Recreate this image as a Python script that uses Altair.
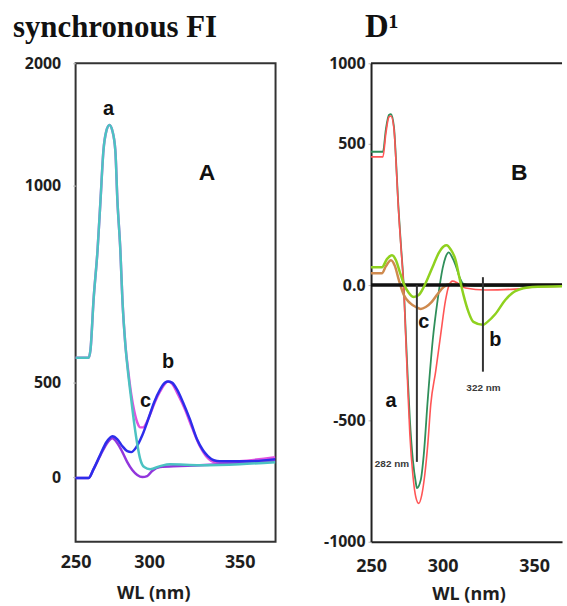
import altair as alt
import pandas as pd

# ---------------- Panel A: synchronous fluorescence intensity ----------------
a_teal_wl = [250, 258.8, 260.1, 262.2, 264.9, 266.9, 268.9, 270.9, 273.0, 275.0, 277.0, 278.4, 280.4, 281.8,
             283.8, 285.8, 287.8, 289.9, 291.9, 293.9, 296.6, 300.5, 306.0, 311.5, 328.0, 350.0, 369.8]
a_teal_fi = [563, 563, 583, 710, 836, 962, 1285, 1447, 1496, 1447, 1285, 962, 836, 710,
             596, 520, 411, 279, 174, 95, 53, 42, 58, 68, 63, 68, 79]

a_magenta_wl = [250, 258.8, 260.1, 262.2, 264.9, 266.9, 268.9, 270.9, 273.0, 275.0, 277.0, 278.4, 280.4, 281.8,
                283.8, 285.8, 287.8, 289.9, 291.9, 293.9, 295.9, 298.0, 300.5, 303.3, 306.0, 308.8, 310.4,
                312.6, 315.9, 319.8, 323.6, 328.0, 331.9, 336.3, 350.0, 369.8]
a_magenta_fi = [563, 563, 583, 710, 836, 962, 1285, 1447, 1496, 1447, 1285, 962, 836, 710,
                596, 528, 437, 347, 289, 263, 263, 284, 332, 400, 453, 495, 503,
                495, 437, 358, 263, 163, 105, 79, 84, 105]

a_blue_wl = [250, 258.8, 262.2, 266.9, 270.9, 275.0, 278.4, 281.8, 285.1, 287.8, 291.2, 295.3, 299.3, 302.7,
             306.0, 308.8, 310.4, 312.6, 315.4, 318.7, 322.5, 326.4, 329.7, 332.4, 335.7, 339.0, 355.5, 369.8]
a_blue_fi = [-5, -5, 42, 121, 184, 216, 200, 163, 137, 132, 158, 221, 305, 395,
             463, 500, 503, 500, 463, 395, 305, 200, 142, 111, 89, 84, 84, 95]

a_purple_wl = [250, 258.8, 262.2, 266.9, 270.9, 275.0, 278.4, 281.8, 285.1, 288.5, 291.9, 295.3, 298.6,
               301.6, 306.0, 317.0, 339.0, 369.8]
a_purple_fi = [-5, -5, 42, 116, 174, 205, 179, 132, 79, 37, 11, 0, 5, 32, 53, 58, 68, 84]

a_labels = ["a", "b", "c"]
a_label_wl = [272.3, 310.4, 297.5]
a_label_fi = [1626, 551, 400]

# axis breakpoints of panel A (tick value -> distance from the top of the plot)
a_y_ticks = [-342, 0, 500, 1000, 2000]
a_y_pos = [481, 416, 321, 123, 0]
a_x_ticks = [250, 300, 350, 370]
a_x_pos = [0, 74, 165, 201]

# ---------------- Panel B: first-derivative spectra ----------------
b_red_wl = [250, 258.3, 260.4, 262.5, 263.9, 266.0, 267.4, 268.8, 270.8, 272.9, 274.3, 275.7, 277.1, 279.2,
            281.3, 283.3, 285.4, 287.5, 289.6, 291.7, 295.1, 298.6, 301.6, 303.3, 305.4, 308.2, 312.5,
            323.4, 339.7, 350.5, 365]
b_red_d1 = [454, 454, 568, 667, 673, 593, 440, 299, 141, -18, -202, -386, -558, -725,
            -817, -842, -808, -725, -600, -441, -320, -184, -55, -4, 14, 7, -11,
            -18, -15, -7, -4]

b_green_wl = [250, 258.3, 260.4, 262.5, 263.9, 266.0, 267.4, 268.8, 270.8, 272.9, 274.3, 275.7, 277.1, 279.2,
              281.3, 282.0, 284.7, 286.8, 289.6, 293.1, 296.5, 300.0, 301.6, 303.3, 304.9, 307.1, 309.2,
              311.4, 318.0, 339.7, 365]
b_green_d1 = [472, 472, 593, 679, 685, 605, 447, 306, 148, -11, -184, -349, -496, -663,
              -758, -779, -746, -642, -423, -202, -55, 60, 99, 116, 102, 70, 28,
              4, -4, -4, 0]

b_orange_wl = [250, 257.6, 260.4, 263.9, 266.7, 269.4, 272.9, 277.1, 281.3, 284.7, 288.2, 292.4, 296.5,
               300.5, 304.3, 309.8, 365]
b_orange_d1 = [42, 42, 67, 88, 67, 18, -37, -66, -81, -88, -81, -62, -33, -7, 4, 0, 0]

b_lime_wl = [250, 257.6, 261.1, 264.6, 267.4, 270.1, 272.9, 276.4, 279.9, 283.3, 286.8, 290.3, 293.8, 297.2,
             300.5, 302.2, 304.3, 307.1, 309.2, 311.4, 314.1, 316.8, 322.0, 324.5, 328.8, 334.2, 339.7,
             349.0, 365]
b_lime_d1 = [63, 63, 92, 106, 88, 46, 4, -29, -44, -37, -7, 32, 74, 113,
             137, 141, 127, 88, 25, -37, -99, -136, -147, -136, -107, -55, -22,
             -7, -4]

# peak markers: wavelength, top and bottom of the marker line
b_peak_nm = [282, 322]
b_peak_top = [0, 28]
b_peak_bottom = [-671, -320]
b_peak_text = ["282 nm", "322 nm"]
b_peak_text_wl = [264.6, 322.3]
b_peak_text_d1 = [-679, -379]

b_labels = ["a", "b", "c"]
b_label_wl = [263.9, 328.8, 286.8]
b_label_d1 = [-430, -202, -136]

# axis breakpoints of panel B
b_y_ticks = [-1000, -500, 0, 500, 1000]
b_y_pos = [481, 359, 223, 81, 0]
b_x_ticks = [250, 300, 350, 365]
b_x_pos = [0, 72, 164, 192]

SANS = "Open Sans"
SERIF = "Liberation Serif"
INK = "#1e1e1e"

# ---------------- shared encodings ----------------
xa_scale = alt.Scale(domain=a_x_ticks, range=a_x_pos, nice=False, zero=False)
ya_scale = alt.Scale(domain=a_y_ticks, range=a_y_pos, nice=False, zero=False)
xb_scale = alt.Scale(domain=b_x_ticks, range=b_x_pos, nice=False, zero=False)
yb_scale = alt.Scale(domain=b_y_ticks, range=b_y_pos, nice=False, zero=False)

xa_axis = alt.Axis(values=[250, 300, 350], title="WL (nm)", ticks=False, domain=False, grid=False,
                   labelFlush=False,
                   labelFont=SANS, labelFontWeight="bold", labelFontSize=18, labelColor=INK,
                   labelPadding=12, titleFont=SANS, titleFontWeight="bold", titleFontSize=18,
                   titleColor=INK, titleX=78, titleY=57, titleBaseline="alphabetic")
ya_axis = alt.Axis(values=[0, 500, 1000, 2000], title=None, domain=False, grid=False,
                   labelExpr="toString(datum.value)",
                   tickColor="#bbbbbb", tickSize=3, labelFont=SANS, labelFontWeight="bold",
                   labelFontSize=16, labelColor=INK, labelPadding=12)
xb_axis = alt.Axis(values=[250, 300, 350], title="WL (nm)", ticks=False, domain=True, grid=False,
                   labelFlush=False, domainColor="#222222", domainWidth=2,
                   labelFont=SANS, labelFontWeight="bold", labelFontSize=18, labelColor=INK,
                   labelPadding=16, titleFont=SANS, titleFontWeight="bold", titleFontSize=18,
                   titleColor=INK, titleX=98, titleY=58, titleBaseline="alphabetic")
yb_axis = alt.Axis(values=[-1000, -500, 0, 500, 1000], title=None, domain=True, grid=False,
                   domainColor="#222222", domainWidth=2, tickColor="#bbbbbb", tickSize=3,
                   labelExpr="datum.value == 0 ? '0.0' : toString(datum.value)",
                   labelFont=SANS, labelFontWeight="bold", labelFontSize=16, labelColor=INK,
                   labelPadding=3)


def curve(wl, val, color, width, xs, ys, xax, yax):
    df = pd.DataFrame({"wl": wl, "val": val})
    return alt.Chart(df).mark_line(color=color, strokeWidth=width, interpolate="monotone").encode(
        x=alt.X("wl:Q", scale=xs, axis=xax),
        y=alt.Y("val:Q", scale=ys, axis=yax),
    )


def letters(names, wl, val, xs, ys, size):
    df = pd.DataFrame({"name": names, "wl": wl, "val": val})
    return alt.Chart(df).mark_text(font="Liberation Sans", fontWeight="bold", fontSize=size,
                                   color="#111111").encode(
        x=alt.X("wl:Q", scale=xs), y=alt.Y("val:Q", scale=ys), text="name:N")


# ---------------- Panel A ----------------
panel_a_layers = [
    curve(a_magenta_wl, a_magenta_fi, "#e052e0", 2.5, xa_scale, ya_scale, xa_axis, ya_axis),
    curve(a_purple_wl, a_purple_fi, "#9236dc", 2.5, xa_scale, ya_scale, xa_axis, ya_axis),
    curve(a_blue_wl, a_blue_fi, "#2d2deb", 2.5, xa_scale, ya_scale, xa_axis, ya_axis),
    curve(a_teal_wl, a_teal_fi, "#4cc2c2", 2.5, xa_scale, ya_scale, xa_axis, ya_axis),
    letters(a_labels, a_label_wl, a_label_fi, xa_scale, ya_scale, 20),
    letters(["A"], [331.9], [1106], xa_scale, ya_scale, 23),
]
panel_a = alt.layer(*panel_a_layers).properties(
    width=201, height=481,
    title=alt.TitleParams("synchronous FI", anchor="start", frame="group", font=SERIF, fontWeight="bold",
                          fontSize=31, color="#111111", dx=-63, offset=11),
    view=alt.ViewBackground(stroke="#333333", strokeWidth=2),
)

# ---------------- Panel B ----------------
zero_line = alt.Chart(pd.DataFrame({"val": [0]})).mark_rule(color="#111111", strokeWidth=3.5).encode(
    y=alt.Y("val:Q", scale=yb_scale))
top_edge = alt.Chart(pd.DataFrame({"val": [1000]})).mark_rule(color="#222222", strokeWidth=2).encode(
    y=alt.Y("val:Q", scale=yb_scale))
peaks = alt.Chart(pd.DataFrame({"wl": b_peak_nm, "top": b_peak_top, "bottom": b_peak_bottom})).mark_rule(
    color="#333333", strokeWidth=2).encode(
    x=alt.X("wl:Q", scale=xb_scale), y=alt.Y("top:Q", scale=yb_scale), y2="bottom:Q")
peak_text = alt.Chart(pd.DataFrame({"t": b_peak_text, "wl": b_peak_text_wl, "val": b_peak_text_d1})).mark_text(
    font="Liberation Sans", fontSize=10, fontWeight="bold", color="#3a3a3a").encode(
    x=alt.X("wl:Q", scale=xb_scale), y=alt.Y("val:Q", scale=yb_scale), text="t:N")

panel_b_layers = [
    curve(b_green_wl, b_green_d1, "#2f8f5a", 1.8, xb_scale, yb_scale, xb_axis, yb_axis),
    curve(b_red_wl, b_red_d1, "#ff5555", 1.6, xb_scale, yb_scale, xb_axis, yb_axis),
    curve(b_orange_wl, b_orange_d1, "#cf8a4e", 2.5, xb_scale, yb_scale, xb_axis, yb_axis),
    zero_line,
    curve(b_lime_wl, b_lime_d1, "#8fd11f", 2.5, xb_scale, yb_scale, xb_axis, yb_axis),
    top_edge,
    peaks,
    peak_text,
    letters(b_labels, b_label_wl, b_label_d1, xb_scale, yb_scale, 20),
    letters(["B"], [341.8], [398], xb_scale, yb_scale, 23),
]
panel_b = alt.layer(*panel_b_layers).properties(
    width=192, height=481,
    title=alt.TitleParams("D\u00b9", anchor="start", frame="group", font=SERIF, fontWeight="bold",
                          fontSize=33, color="#111111", dx=-6, offset=11),
    view=alt.ViewBackground(strokeOpacity=0),
)

chart = alt.hconcat(panel_a, panel_b, spacing=42).properties(
    padding={"left": 12, "top": 10, "right": 0, "bottom": 0},
    background="white",
)

chart.save("out.html", embed_options={"renderer": "svg", "actions": False})
